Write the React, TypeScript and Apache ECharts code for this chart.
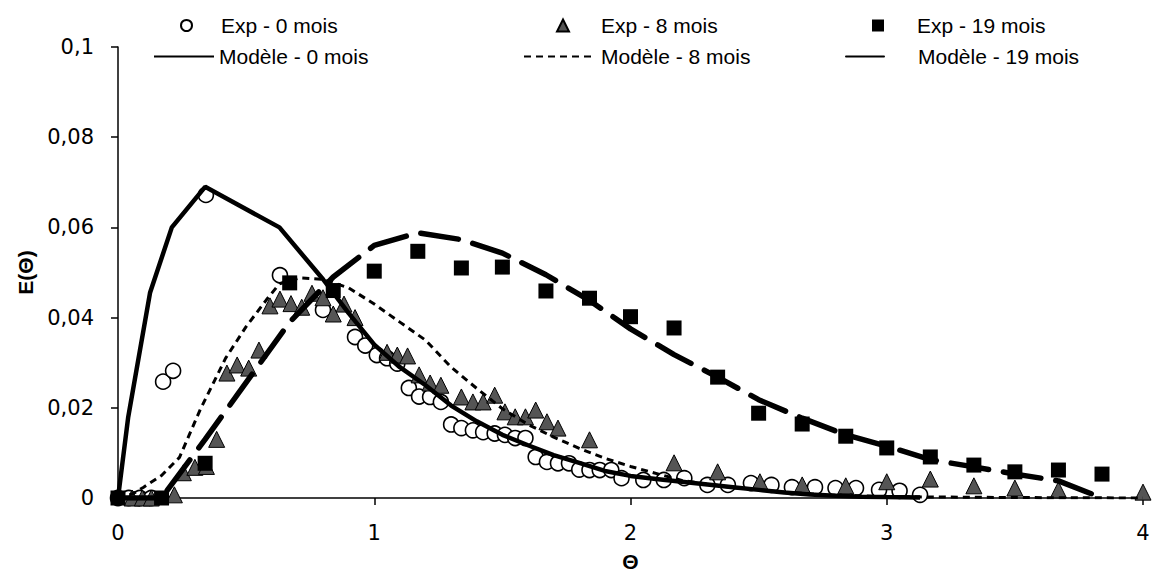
import React, { useEffect, useRef } from "react";
import * as echarts from "echarts";

// ---- Data ----
const exp0X = [0, 0.042, 0.085, 0.13, 0.176, 0.215, 0.343, 0.632, 0.8, 0.925, 0.965, 1.01, 1.05, 1.09, 1.135, 1.175, 1.218, 1.26, 1.3, 1.34, 1.385, 1.425, 1.47, 1.51, 1.55, 1.59, 1.63, 1.674, 1.717, 1.76, 1.8, 1.84, 1.88, 1.925, 1.965, 2.05, 2.13, 2.21, 2.3, 2.38, 2.47, 2.55, 2.63, 2.72, 2.8, 2.88, 2.97, 3.05, 3.13];
const exp0Y = [0, 0, 0, 0, 0.0258, 0.0282, 0.0672, 0.0494, 0.0417, 0.0357, 0.0338, 0.0317, 0.031, 0.0298, 0.0244, 0.0225, 0.0224, 0.0213, 0.0163, 0.0155, 0.015, 0.0146, 0.0143, 0.014, 0.0133, 0.0133, 0.0091, 0.008, 0.0077, 0.0077, 0.0063, 0.0062, 0.0062, 0.0062, 0.0044, 0.004, 0.004, 0.0044, 0.0029, 0.0029, 0.0033, 0.0029, 0.0024, 0.0024, 0.0022, 0.0022, 0.0018, 0.0016, 0.0007];

const exp8X = [0.055, 0.095, 0.13, 0.22, 0.255, 0.3, 0.345, 0.385, 0.425, 0.465, 0.51, 0.55, 0.593, 0.632, 0.675, 0.717, 0.757, 0.8, 0.84, 0.882, 0.925, 1.05, 1.09, 1.13, 1.175, 1.218, 1.26, 1.34, 1.385, 1.425, 1.47, 1.51, 1.55, 1.59, 1.63, 1.674, 1.717, 1.84, 2.17, 2.34, 2.505, 2.67, 2.84, 3.0, 3.17, 3.34, 3.5, 3.67, 4.0];
const exp8Y = [0, 0, 0, 0.0007, 0.0056, 0.0068, 0.007, 0.013, 0.0277, 0.0295, 0.0288, 0.0328, 0.0426, 0.0441, 0.0431, 0.0423, 0.0454, 0.0444, 0.0408, 0.043, 0.04, 0.0323, 0.0317, 0.0315, 0.0273, 0.0255, 0.025, 0.0224, 0.0213, 0.0213, 0.0228, 0.0191, 0.018, 0.018, 0.0195, 0.0169, 0.0155, 0.0129, 0.0078, 0.0058, 0.0036, 0.0029, 0.0027, 0.0036, 0.0042, 0.0027, 0.0022, 0.0018, 0.0013];

const exp19X = [0, 0.17, 0.34, 0.67, 0.84, 1.0, 1.17, 1.34, 1.5, 1.67, 1.84, 2.0, 2.17, 2.34, 2.5, 2.67, 2.84, 3.0, 3.17, 3.34, 3.5, 3.67, 3.84];
const exp19Y = [0, 0, 0.0077, 0.0477, 0.046, 0.0503, 0.0547, 0.051, 0.0512, 0.0459, 0.0443, 0.0402, 0.0377, 0.0268, 0.0188, 0.0164, 0.0137, 0.0111, 0.0091, 0.0073, 0.0058, 0.0062, 0.0053];

const mod0X = [0, 0.04, 0.125, 0.21, 0.34, 0.63, 0.8, 0.9, 1.0, 1.1, 1.2, 1.3, 1.4, 1.5, 1.6, 1.7, 1.8, 1.9, 2.0, 2.1, 2.2, 2.3, 2.4, 2.5, 2.6, 2.7, 2.8, 2.9, 3.0, 3.13];
const mod0Y = [0, 0.018, 0.0455, 0.06, 0.069, 0.06, 0.0485, 0.041, 0.034, 0.029, 0.025, 0.0205, 0.017, 0.014, 0.0117, 0.0095, 0.0078, 0.006, 0.0049, 0.0042, 0.0036, 0.003, 0.0024, 0.0018, 0.0012, 0.0008, 0.0005, 0.0003, 0.0002, 0.0001];

const mod8X = [0, 0.06, 0.1, 0.17, 0.24, 0.32, 0.42, 0.5, 0.58, 0.63, 0.71, 0.8, 0.9, 1.0, 1.1, 1.2, 1.3, 1.4, 1.5, 1.6, 1.7, 1.8, 1.9, 2.0, 2.2, 2.4, 2.6, 2.8, 3.0, 3.5, 4.0];
const mod8Y = [0, 0.001, 0.0024, 0.005, 0.009, 0.0195, 0.031, 0.038, 0.044, 0.0475, 0.0488, 0.0485, 0.0466, 0.043, 0.039, 0.035, 0.029, 0.0243, 0.0198, 0.0163, 0.0135, 0.011, 0.0088, 0.007, 0.0039, 0.0023, 0.0013, 0.0006, 0.0003, 0.0001, 0];

const mod19X = [0, 0.17, 0.34, 0.67, 0.84, 1.0, 1.17, 1.34, 1.5, 1.67, 1.84, 2.0, 2.17, 2.34, 2.5, 2.67, 2.84, 3.0, 3.17, 3.34, 3.5, 3.67, 3.84];
const mod19Y = [0, 0, 0.013, 0.039, 0.049, 0.056, 0.0588, 0.0573, 0.0543, 0.0495, 0.0438, 0.0375, 0.0318, 0.0268, 0.0218, 0.0177, 0.014, 0.0115, 0.0085, 0.0069, 0.0053, 0.0038, 0];

const seriesNames = [
  "Exp - 0 mois",
  "Exp - 8 mois",
  "Exp - 19 mois",
  "Modèle - 0 mois",
  "Modèle - 8 mois",
  "Modèle - 19 mois",
];
const xTicks = [0, 1, 2, 3, 4];
const yTicks = [0, 0.02, 0.04, 0.06, 0.08, 0.1];

const zip = (xs: number[], ys: number[]) => xs.map((x, i) => [x, ys[i]]);

const FONT = "'Liberation Sans', Arial, sans-serif";
const TICKFONT = "'DejaVu Sans', sans-serif";
const FS = 21;

export default function App() {
  const ref = useRef<HTMLDivElement>(null);
  useEffect(() => {
    if (!ref.current) return;
    const chart = echarts.init(ref.current, undefined, { renderer: "svg" });
    const leg = (name: string, left: number, top: number, iw: number, ih: number, padLeft: number, hideSymbol = false) => ({
      data: [name],
      left,
      top,
      itemWidth: iw,
      itemHeight: ih,
      padding: 0,
      selectedMode: false,
      ...(hideSymbol ? { itemStyle: { opacity: 0 } } : {}),
      textStyle: { fontFamily: FONT, fontSize: FS, color: "#000", padding: [0, 0, 0, padLeft] },
    });
    chart.setOption({
      animation: false,
      backgroundColor: "#fff",
      textStyle: { fontFamily: FONT },
      grid: { left: 118, right: 10, top: 47, bottom: 79, containLabel: false, outerBoundsMode: "none" },
      legend: [
        leg(seriesNames[0], 180, 15, 11, 11, 24),
        leg(seriesNames[1], 556, 15, 12, 12, 27),
        leg(seriesNames[2], 872, 15, 12, 12, 28),
        leg(seriesNames[3], 153, 46, 60, 14, 0, true),
        leg(seriesNames[4], 523, 46, 72, 14, 0, true),
        leg(seriesNames[5], 845, 46, 42, 14, 25, true),
      ],
      xAxis: {
        type: "value",
        min: xTicks[0],
        max: xTicks[xTicks.length - 1],
        interval: 1,
        name: "Θ",
        nameLocation: "middle",
        nameGap: 53,
        nameTextStyle: { fontFamily: FONT, fontSize: FS, fontWeight: "bold", color: "#000" },
        axisLine: { show: true, onZero: false, lineStyle: { color: "#000", width: 1.5 } },
        axisTick: { show: true, inside: false, length: 7, lineStyle: { color: "#000", width: 1.5 } },
        axisLabel: { color: "#000", fontFamily: TICKFONT, fontSize: FS, margin: 24 },
        splitLine: { show: false },
      },
      yAxis: {
        type: "value",
        min: yTicks[0],
        max: yTicks[yTicks.length - 1],
        interval: 0.02,
        name: "E(Θ)",
        nameLocation: "middle",
        nameGap: 78,
        nameTextStyle: { fontFamily: FONT, fontSize: FS, fontWeight: "bold", color: "#000" },
        axisLine: { show: true, lineStyle: { color: "#000", width: 1.5 } },
        axisTick: { show: true, inside: false, length: 7, lineStyle: { color: "#000", width: 1.5 } },
        axisLabel: {
          color: "#000",
          fontFamily: TICKFONT,
          fontSize: FS,
          margin: 24,
          formatter: (v: number) => String(Math.round(v * 100) / 100).replace(".", ","),
        },
        splitLine: { show: false },
      },
      series: [
        {
          name: seriesNames[0],
          type: "scatter",
          symbol: "circle",
          symbolSize: 15,
          itemStyle: { color: "#fff", borderColor: "#000", borderWidth: 1.6, opacity: 1 },
          data: zip(exp0X, exp0Y),
        },
        {
          name: seriesNames[1],
          type: "scatter",
          symbol: "triangle",
          symbolSize: 16,
          itemStyle: { color: "#555", borderColor: "#000", borderWidth: 1, opacity: 1 },
          data: zip(exp8X, exp8Y),
        },
        {
          name: seriesNames[2],
          type: "scatter",
          symbol: "rect",
          symbolSize: 15,
          itemStyle: { color: "#000", opacity: 1 },
          data: zip(exp19X, exp19Y),
        },
        {
          name: seriesNames[3],
          type: "line",
          symbol: "none",
          color: "#000",
          lineStyle: { color: "#000", width: 4.5, type: "solid" },
          data: zip(mod0X, mod0Y),
        },
        {
          name: seriesNames[4],
          type: "line",
          symbol: "none",
          color: "#000",
          lineStyle: { color: "#000", width: 3, type: [7, 5] },
          data: zip(mod8X, mod8Y),
        },
        {
          name: seriesNames[5],
          type: "line",
          symbol: "none",
          color: "#000",
          lineStyle: { color: "#000", width: 5.5, type: [38, 15], cap: "round" },
          data: zip(mod19X, mod19Y),
        },
      ],
    });
    return () => chart.dispose();
  }, []);
  return (
    <div
      ref={ref}
      style={{ position: "fixed", left: 0, top: 0, width: 1153, height: 577, background: "#fff" }}
    />
  );
}
